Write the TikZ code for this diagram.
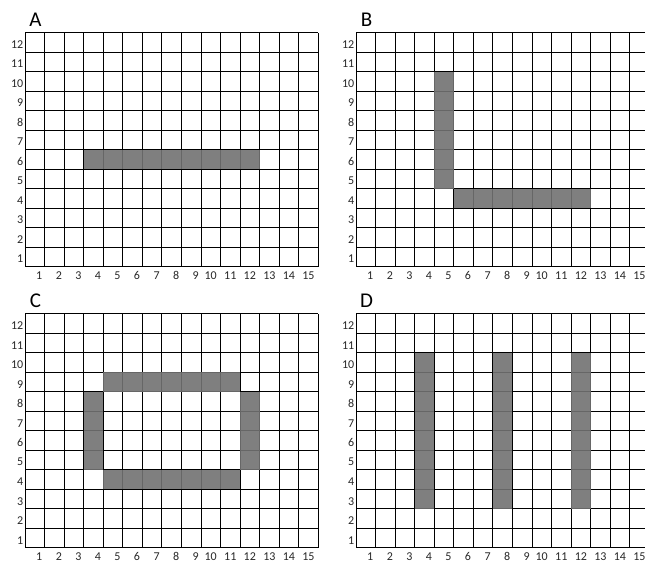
\documentclass[tikz,border=0pt]{standalone}
\usepackage{fontspec}
\setmainfont{Carlito}
\definecolor{shadegray}{RGB}{114,114,114}
\definecolor{labelgray}{RGB}{40,40,40}
\tikzset{
  gridline/.style={line width=0.9pt, black},
  cellfill/.style={fill=shadegray, fill opacity=0.9, draw=none},
  rowlab/.style={anchor=east, inner sep=0pt, text=labelgray, font=\fontsize{12}{13}\selectfont},
  collab/.style={anchor=center, inner sep=0pt, text=labelgray, font=\fontsize{12}{13}\selectfont},
  panellab/.style={anchor=center, inner sep=0pt, font=\fontsize{21}{24}\selectfont},
}
% #1 = x origin (pt), #2 = y origin (pt), #3 = letter, #4 = filled rectangles
\newcommand\mypanel[4]{%
  \begin{scope}[shift={(#1pt,#2pt)}, x=19.55pt, y=19.5pt]
    \node[panellab] (lab#3) at (0.537,12.66) {#3};
    \draw[gridline, step=1] (0,0) grid (15,12);
    \foreach \r in {1,...,12} {
      \node[rowlab] (row#3\r) at ([xshift=-1.5pt,yshift=-2pt]0,\r-0.5) {\r};
    }
    \foreach \c in {1,...,15} {
      \ifnum\c<10
        \node[collab] (col#3\c) at ([xshift=4.5pt]\c-0.5,-0.45) {\c};
      \else
        \node[collab] (col#3\c) at (\c-0.5,-0.45) {\c};
      \fi
    }
    #4
  \end{scope}}
\begin{document}
\begin{tikzpicture}[x=1pt, y=1pt]
  \useasboundingbox (0,0) rectangle (645,563);
  \clip (0,0) rectangle (645,563);
  \fill[white] (0,0) rectangle (645,563);
  % Panel A
  \mypanel{25}{296.3}{A}{%
    \fill[cellfill] (3,5) rectangle (12,6);
  }
  % Panel B
  \mypanel{356}{296.3}{B}{%
    \fill[cellfill] (4,4) rectangle (5,10);
    \fill[cellfill] (5,3) rectangle (12,4);
  }
  % Panel C
  \mypanel{25}{15.1}{C}{%
    \fill[cellfill] (4,8) rectangle (11,9);
    \fill[cellfill] (4,3) rectangle (11,4);
    \fill[cellfill] (3,4) rectangle (4,8);
    \fill[cellfill] (11,4) rectangle (12,8);
  }
  % Panel D
  \mypanel{356}{15.1}{D}{%
    \fill[cellfill] (3,2) rectangle (4,10);
    \fill[cellfill] (7,2) rectangle (8,10);
    \fill[cellfill] (11,2) rectangle (12,10);
  }
\end{tikzpicture}
\end{document}
